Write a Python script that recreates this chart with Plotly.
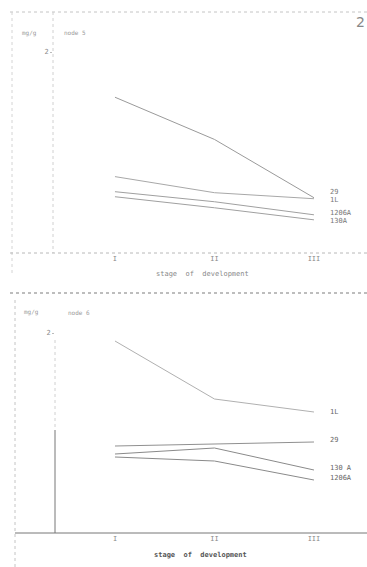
import plotly.graph_objects as go

# ---- data ----
stages = [1, 2, 3]
stage_labels = ["I", "II", "III"]
series_names = ["1L", "29", "1206A", "130A"]

node5_1L = [1.55, 1.13, 0.55]
node5_29 = [0.76, 0.60, 0.54]
node5_1206A = [0.61, 0.51, 0.38]
node5_130A = [0.56, 0.45, 0.33]

node6_1L = [1.92, 1.34, 1.21]
node6_29 = [0.87, 0.89, 0.91]
node6_130A = [0.79, 0.85, 0.63]
node6_1206A = [0.76, 0.72, 0.53]

W, H = 367, 567
FONT = "DejaVu Sans Mono"
TXT = "#8a8a8a"

fig = go.Figure()

top_series = [("1L", node5_1L, "#9a9a9a", -2), ("29", node5_29, "#a8a8a8", 7),
              ("1206A", node5_1206A, "#a0a0a0", 2), ("130A", node5_130A, "#a0a0a0", -1)]
bot_series = [("1L", node6_1L, "#b0b0b0", 0), ("29", node6_29, "#909090", 2),
              ("130 A", node6_130A, "#8a8a8a", 2), ("1206A", node6_1206A, "#8a8a8a", 2)]

for name, vals, col, dy in top_series:
    fig.add_trace(go.Scatter(x=stages, y=vals, mode="lines", name=name,
                             line=dict(color=col, width=1), xaxis="x", yaxis="y",
                             showlegend=False))
    fig.add_annotation(x=3, y=vals[-1], xref="x", yref="y", text=name, showarrow=False,
                       xanchor="left", xshift=14, yshift=dy, font=dict(family=FONT, size=7, color="#777"))
for name, vals, col, dy in bot_series:
    fig.add_trace(go.Scatter(x=stages, y=vals, mode="lines", name=name,
                             line=dict(color=col, width=1), xaxis="x2", yaxis="y2",
                             showlegend=False))
    fig.add_annotation(x=3, y=vals[-1], xref="x2", yref="y2", text=name, showarrow=False,
                       xanchor="left", xshift=14, yshift=dy, font=dict(family=FONT, size=7, color="#666"))

def px(x):
    return x / W

def py(y):
    return 1 - y / H

common_x = dict(tickvals=stages, ticktext=stage_labels, showgrid=False, zeroline=False,
                showline=False, ticks="", tickfont=dict(family=FONT, size=7, color=TXT))
common_y = dict(tickvals=[2], ticktext=["2"], showgrid=False, zeroline=False, showline=False,
                ticks="outside", ticklen=2, tickcolor="#bbb",
                tickfont=dict(family=FONT, size=7, color=TXT))

fig.update_layout(
    width=W, height=H, margin=dict(l=0, r=0, t=0, b=0),
    paper_bgcolor="white", plot_bgcolor="rgba(0,0,0,0)",
    xaxis=dict(domain=[px(53), 1], range=[0.377, 3.533], anchor="y", **common_x),
    yaxis=dict(domain=[py(253), py(12)], range=[0, 2.398], anchor="x", **common_y),
    xaxis2=dict(domain=[px(55), 1], range=[0.397, 3.533], anchor="y2", **common_x),
    yaxis2=dict(domain=[py(533), py(293)], range=[0, 2.4], anchor="x2", **common_y),
)

shapes = [
    # top panel frame (dotted, faint)
    dict(x0=px(10), x1=1, y0=py(12), y1=py(12), color="#c4c4c4", dash="dot", width=1),
    dict(x0=px(12), x1=px(12), y0=py(12), y1=py(275), color="#d4d4d4", dash="dot", width=1),
    dict(x0=px(53), x1=px(53), y0=py(12), y1=py(253), color="#d0d0d0", dash="dot", width=1),
    dict(x0=px(10), x1=1, y0=py(253), y1=py(253), color="#b8b8b8", dash="dot", width=1),
    # bottom panel frame
    dict(x0=px(10), x1=1, y0=py(293), y1=py(293), color="#a8a8a8", dash="dot", width=1.5),
    dict(x0=px(15), x1=px(15), y0=py(300), y1=0, color="#c4c4c4", dash="dot", width=1),
    dict(x0=px(55), x1=px(55), y0=py(340), y1=py(430), color="#d0d0d0", dash="dot", width=1),
    dict(x0=px(55), x1=px(55), y0=py(430), y1=py(533), color="#777", dash="solid", width=1),
    dict(x0=px(15), x1=1, y0=py(533), y1=py(533), color="#777", dash="solid", width=1),
]
for s in shapes:
    fig.add_shape(type="line", xref="paper", yref="paper", x0=s["x0"], x1=s["x1"],
                  y0=s["y0"], y1=s["y1"], line=dict(color=s["color"], dash=s["dash"], width=s["width"]))

texts = [
    ("mg/g", 20, 33, 6, "#999", "left", False),
    ("node 5", 62, 33, 6, "#999", "left", False),
    ("mg/g", 22, 312, 6, "#999", "left", False),
    ("node 6", 66, 312, 6, "#999", "left", False),
    ("2", 360, 22, 14, "#888", "center", False),
    ("stage  of  development", 202, 274, 7, "#888", "center", False),
    ("stage  of  development", 200, 555, 7, "#555", "center", True),
]
for t, x, y, size, col, anchor, bold in texts:
    fig.add_annotation(x=px(x), y=py(y), xref="paper", yref="paper",
                       text=f"<b>{t}</b>" if bold else t, showarrow=False,
                       xanchor=anchor, yanchor="middle",
                       font=dict(family=FONT if size < 10 else "DejaVu Sans", size=size, color=col))

fig.write_html("out.html", config={"displayModeBar": False},
               post_script="document.body.style.margin='0';document.body.style.overflow='hidden';")
